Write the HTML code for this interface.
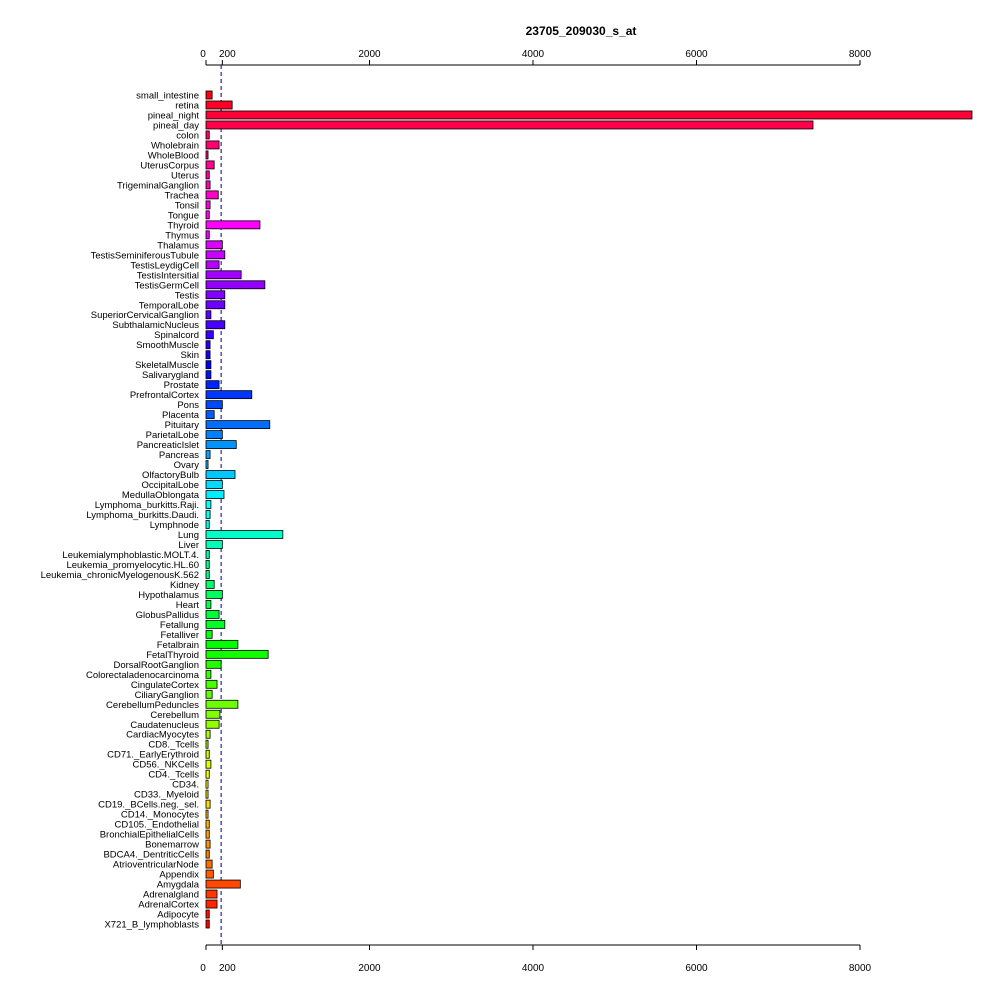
<!DOCTYPE html>
<html><head><meta charset="utf-8"><style>
body{margin:0;background:#fff;width:1000px;height:1000px;overflow:hidden}
svg text{font-family:"Liberation Sans",sans-serif}
</style></head><body>
<svg id="chart" width="1000" height="1000" xmlns="http://www.w3.org/2000/svg">
<text x="581" y="35" text-anchor="middle" font-size="12" font-weight="bold">23705_209030_s_at</text>
<g id="axes"></g><g id="bars"></g><g id="labels"></g>
</svg>
<script>
const categories=["small_intestine","retina","pineal_night","pineal_day","colon","Wholebrain","WholeBlood","UterusCorpus","Uterus","TrigeminalGanglion","Trachea","Tonsil","Tongue","Thyroid","Thymus","Thalamus","TestisSeminiferousTubule","TestisLeydigCell","TestisIntersitial","TestisGermCell","Testis","TemporalLobe","SuperiorCervicalGanglion","SubthalamicNucleus","Spinalcord","SmoothMuscle","Skin","SkeletalMuscle","Salivarygland","Prostate","PrefrontalCortex","Pons","Placenta","Pituitary","ParietalLobe","PancreaticIslet","Pancreas","Ovary","OlfactoryBulb","OccipitalLobe","MedullaOblongata","Lymphoma_burkitts.Raji.","Lymphoma_burkitts.Daudi.","Lymphnode","Lung","Liver","Leukemialymphoblastic.MOLT.4.","Leukemia_promyelocytic.HL.60","Leukemia_chronicMyelogenousK.562","Kidney","Hypothalamus","Heart","GlobusPallidus","Fetallung","Fetalliver","Fetalbrain","FetalThyroid","DorsalRootGanglion","Colorectaladenocarcinoma","CingulateCortex","CiliaryGanglion","CerebellumPeduncles","Cerebellum","Caudatenucleus","CardiacMyocytes","CD8._Tcells","CD71._EarlyErythroid","CD56._NKCells","CD4._Tcells","CD34.","CD33._Myeloid","CD19._BCells.neg._sel.","CD14._Monocytes","CD105._Endothelial","BronchialEpithelialCells","Bonemarrow","BDCA4._DentriticCells","AtrioventricularNode","Appendix","Amygdala","Adrenalgland","AdrenalCortex","Adipocyte","X721_B_lymphoblasts"];
const values=[75,320,9370,7425,40,160,25,100,40,50,150,50,40,660,40,200,230,160,430,720,230,230,60,230,90,50,50,60,60,160,560,200,100,780,200,370,50,25,355,200,220,60,50,40,940,200,40,40,40,100,200,60,160,230,75,390,760,185,60,135,75,390,170,160,50,25,40,60,40,25,25,50,25,40,40,50,40,75,90,420,135,135,40,40];
const tickValues=[0,200,2000,4000,6000,8000];
const tickLabels=["0","200","2000","4000","6000","8000"];
const refLine=[185];
const NS="http://www.w3.org/2000/svg";
const x0=206,xs=654/8000,yTop=95,step=(934-95)/84,bh=8;
const X=v=>x0+v*xs, Y=i=>yTop+i*step;
function mk(t,a,p){const e=document.createElementNS(NS,t);for(const k in a)e.setAttribute(k,a[k]);p.appendChild(e);return e;}
const axes=document.getElementById('axes'),bars=document.getElementById('bars'),labels=document.getElementById('labels');
[65,945].forEach((ay,j)=>{
 const l=mk('line',{x1:X(0),x2:X(8000),y1:ay,y2:ay,stroke:'#000'},axes);
 
 
 tickValues.forEach((v,k)=>{
  const t=mk('line',{x1:X(v),x2:X(v),y1:ay,y2:j?ay+5:ay-5,stroke:'#000'},axes);
  
  
  const tx=mk('text',{x:X(v)+(k==1?5:k==0?-3:0),y:j?ay+26:ay-8,'text-anchor':'middle','font-size':'10'},axes);
  tx.textContent=tickLabels[k];
  
  
 });
});
const n=categories.length;
categories.forEach((c,i)=>{
 const h=((n-1-i)/n)*360;
 const r=mk('rect',{x:X(0),y:Y(i)-bh/2,width:Math.max(values[i]*xs,1),height:bh,fill:`hsl(${h},100%,50%)`,stroke:'#000','stroke-width':'0.8'},bars);
 
 
 const t=mk('text',{x:199,y:Y(i)+3.5,'text-anchor':'end','font-size':'9.5'},labels);
 t.textContent=c;
 
 
});
const d=mk('line',{x1:X(refLine[0]),x2:X(refLine[0]),y1:65,y2:945,stroke:'#00008b','stroke-dasharray':'4,3'},axes);


</script>
</body></html>
